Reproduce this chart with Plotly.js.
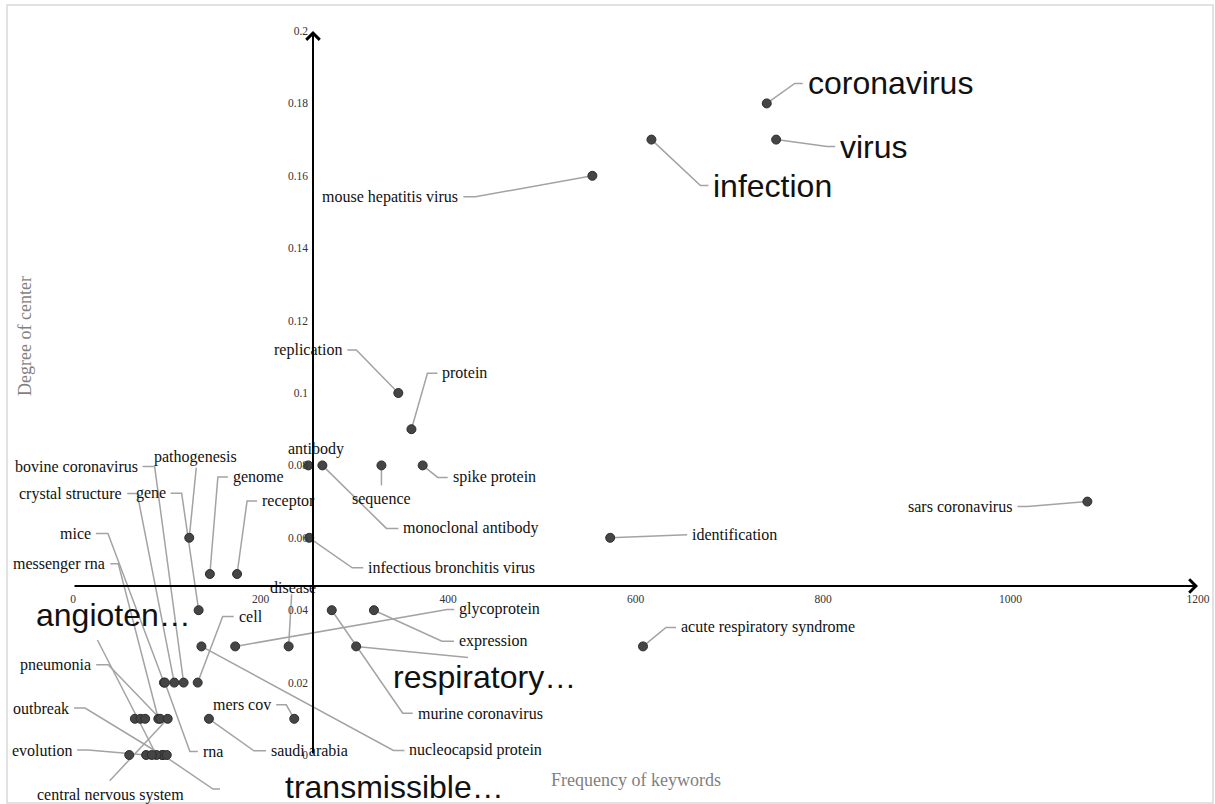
<!DOCTYPE html>
<html>
<head>
<meta charset="utf-8">
<script src="https://cdn.plot.ly/plotly-3.0.1.min.js"></script>
<style>
  html, body { margin: 0; padding: 0; background: #fff; }
  #chart { width: 1215px; height: 804px; }
</style>
</head>
<body>
<div id="chart"></div>
<script>
// ---------------- data ----------------
const keywords = ['coronavirus','virus','infection','mouse hepatitis virus','replication','protein','antibody',
  'monoclonal antibody','sequence','spike protein','infectious bronchitis virus','identification','sars coronavirus',
  'acute respiratory syndrome','glycoprotein','expression','murine coronavirus','respiratory…','disease',
  'nucleocapsid protein','cell','bovine coronavirus','crystal structure','gene','pathogenesis','genome','receptor',
  'mice','rna','messenger rna','pneumonia','central nervous system','mers cov','saudi arabia','evolution',
  'outbreak','transmissible…','angioten…','','','','','',''];
const frequency = [740,750,617,554,347,361,251,266,329,373,
  252,573,1082,608,173,321,276,302,230,137,
  133,118,108,134,124,146,175,97,98,91,
  93,101,236,145,78,95,96,89,
  66,72,77,60,84,100];
const degree = [0.18,0.17,0.17,0.16,0.10,0.09,0.08,0.08,0.08,0.08,
  0.06,0.06,0.07,0.03,0.03,0.04,0.04,0.03,0.03,0.03,
  0.02,0.02,0.02,0.04,0.06,0.05,0.05,0.02,0.02,0.01,
  0.01,0.01,0.01,0.01,0,0,0,0,
  0.01,0.01,0.01,0,0,0];
const xTickVals = [0,200,400,600,800,1000,1200];
const yTickVals = [0,0.02,0.04,0.06,0.08,0.1,0.12,0.14,0.16,0.18,0.2];
const yTickText = ['0','0.02','0.04','0.06','0.08','0.1','0.12','0.14','0.16','0.18','0.2'];
const xAxisTitle = 'Frequency of keywords';
const yAxisTitle = 'Degree of center';

// ---------------- layout settings ----------------
const X_RANGE = [-77.87, 1218.13];
const Y_RANGE = [-0.013536, 0.208564];
const X_CROSS = 256;      // value where the vertical axis crosses
const Y_CROSS = 0.0467;   // value where the horizontal axis crosses
const W = 1215, H = 804;
const bigKeywords = ['coronavirus','virus','infection','respiratory…','transmissible…','angioten…'];

// label placement: [bendDx, bendDy, tick, anchor, labelDx, labelDy] in pixels relative to the point
const labelPlacement = [
  [28,-20,8],[51,7,8],[49,46,8],[-117,21,-12],[-42,-43,-9],[16,-56,10],
  [null,null,0,'center',8,-16],
  [64,63,12],[0,20,0,'center',0,34],[15,12,10],[43,30,11],[70,-3,7],[-60,5,-10],
  [23,-19,10],[212,-37,7],[68,31,12],[71,103,10],[112,11,0,'left',35,31],
  [3,-52,0,'center',4,-59],[192,104,11],[25,-66,11],[-29,-216,-12],[-37,-189,-10],
  [-17,-117,-11],[7,-70,0,'center',6,-81],[8,-97,10],[10,-73,10],[-56,-149,-12],
  [25,69,8],[-40,-155,-8],[-52,-54,-12],[-58,62,0,'center',-57,76],[-8,-14,-10],
  [45,32,12],[-58,-5,-11],[-77,-47,-11],[50,34,7,'left',120,32],[-59,-115,0,'left',-122,-140]
];

const pxX = W / (X_RANGE[1] - X_RANGE[0]);
const pxY = H / (Y_RANGE[1] - Y_RANGE[0]);

const leadX = [], leadY = [];
const annotations = [];
keywords.forEach((k, i) => {
  const p = labelPlacement[i];
  if (!k || !p) return;
  const x0 = frequency[i], y0 = degree[i];
  const [bx, by, tick] = p;
  if (bx !== null) {
    leadX.push(x0, x0 + bx / pxX);
    leadY.push(y0, y0 - by / pxY);
    if (tick) { leadX.push(x0 + (bx + tick) / pxX); leadY.push(y0 - by / pxY); }
    leadX.push(null); leadY.push(null);
  }
  let anchor, lx, ly;
  if (p.length > 3) { anchor = p[3]; lx = p[4]; ly = p[5]; }
  else { anchor = tick > 0 ? 'left' : 'right'; lx = bx + tick + (tick > 0 ? 3 : -3); ly = by; }
  const big = bigKeywords.includes(k);
  annotations.push({
    x: x0, y: y0, xref: 'x', yref: 'y', showarrow: false,
    xshift: lx, yshift: -ly, xanchor: anchor, yanchor: 'middle',
    text: k,
    font: big ? {family: '"Liberation Sans", Arial, sans-serif', size: 32, color: '#111'}
              : {family: '"Liberation Serif", "Times New Roman", serif', size: 16, color: '#111'}
  });
});

// axes lines with open arrowheads
annotations.push({x: 1200, y: Y_CROSS, ax: 0, ay: Y_CROSS, xref: 'x', yref: 'y', axref: 'x', ayref: 'y',
  text: '', showarrow: true, arrowhead: 4, arrowsize: 1.3, arrowwidth: 2, arrowcolor: '#000'});
annotations.push({x: X_CROSS, y: 0.2, ax: X_CROSS, ay: 0, xref: 'x', yref: 'y', axref: 'x', ayref: 'y',
  text: '', showarrow: true, arrowhead: 4, arrowsize: 1.3, arrowwidth: 2, arrowcolor: '#000'});
// axis titles
annotations.push({x: 636 / W, y: 1 - 780 / H, xref: 'paper', yref: 'paper', showarrow: false,
  xanchor: 'center', yanchor: 'middle',
  text: xAxisTitle, font: {family: '"Liberation Serif", "Times New Roman", serif', size: 18, color: '#7f7f7f'}});
annotations.push({x: 25 / W, y: 1 - 336 / H, xref: 'paper', yref: 'paper', showarrow: false, textangle: -90,
  xanchor: 'center', yanchor: 'middle',
  text: yAxisTitle, font: {family: '"Liberation Serif", "Times New Roman", serif', size: 18, color: '#7f7f7f'}});

const traces = [
  {type: 'scatter', mode: 'lines', x: leadX, y: leadY, connectgaps: false, hoverinfo: 'skip',
   line: {color: '#a3a3a3', width: 1.5}},
  {type: 'scatter', mode: 'markers', x: frequency, y: degree, text: keywords, hoverinfo: 'text+x+y',
   marker: {size: 9, color: '#454545', line: {color: '#2e2e2e', width: 1}}}
];

const tickFont = {family: '"Liberation Serif", "Times New Roman", serif', size: 11.5, color: '#333'};
const layout = {
  width: W, height: H, margin: {l: 0, r: 0, t: 0, b: 0},
  paper_bgcolor: '#fff', plot_bgcolor: '#fff', showlegend: false,
  xaxis: {range: X_RANGE, anchor: 'free', position: (Y_CROSS - Y_RANGE[0]) / (Y_RANGE[1] - Y_RANGE[0]),
    tickmode: 'array', tickvals: xTickVals, ticktext: xTickVals.map(String),
    showgrid: false, zeroline: false, showline: false, ticks: '', tickfont: tickFont,
    ticklabelstandoff: 5, automargin: false, fixedrange: true},
  yaxis: {range: Y_RANGE, anchor: 'free', position: (X_CROSS - X_RANGE[0]) / (X_RANGE[1] - X_RANGE[0]),
    tickmode: 'array', tickvals: yTickVals, ticktext: yTickText,
    showgrid: false, zeroline: false, showline: false, ticks: '', tickfont: tickFont,
    ticklabelstandoff: 5, automargin: false, fixedrange: true},
  annotations: annotations,
  shapes: [{type: 'rect', xref: 'paper', yref: 'paper', x0: 7 / W, x1: 1213 / W, y0: 1 / H, y1: 1 - 5 / H,
    line: {color: '#d9d9d9', width: 1.5}, fillcolor: 'rgba(0,0,0,0)'}]
};

Plotly.newPlot('chart', traces, layout, {displayModeBar: false, staticPlot: true});
</script>
</body>
</html>
